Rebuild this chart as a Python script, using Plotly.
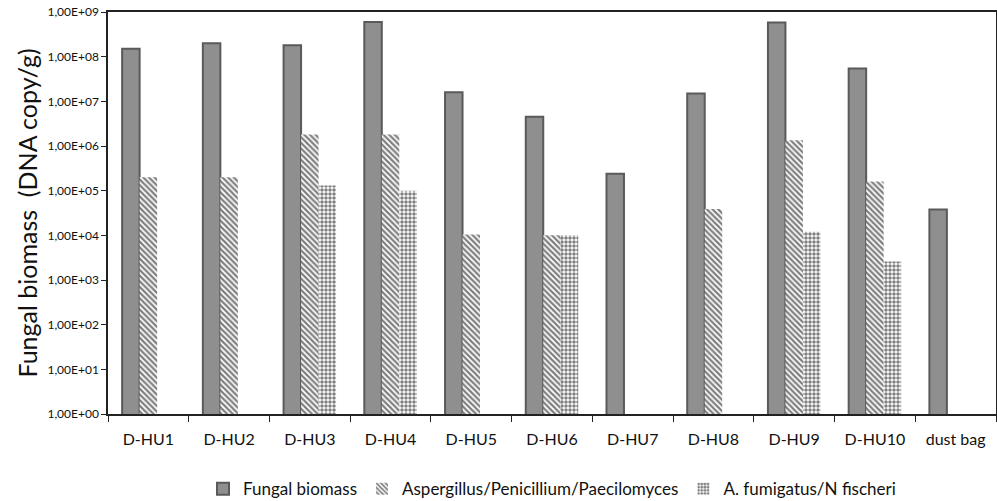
import plotly.graph_objects as go

categories = ["D-HU1", "D-HU2", "D-HU3", "D-HU4", "D-HU5", "D-HU6", "D-HU7", "D-HU8", "D-HU9", "D-HU10", "dust bag"]
fungal_biomass = [1.5e8, 2.0e8, 1.8e8, 6.0e8, 1.6e7, 4.5e6, 2.4e5, 1.5e7, 5.8e8, 5.4e7, 3.8e4]
asp_pen_pae = [2.0e5, 2.0e5, 1.8e6, 1.8e6, 1.05e4, 1.0e4, None, 3.9e4, 1.35e6, 1.6e5, None]
fumigatus = [None, None, 1.3e5, 1.0e5, None, 1.0e4, None, None, 1.2e4, 2.6e3, None]

tick_vals = [10 ** i for i in range(0, 10)]
tick_text = ["1,00E+%02d" % i for i in range(0, 10)]

font_family = "Lato, 'Open Sans', sans-serif"

fig = go.Figure()
fig.add_trace(go.Bar(
    name="Fungal biomass", x=categories, y=fungal_biomass,
    marker=dict(color="#8f8f8f", line=dict(color="#5a5a5a", width=2)),
))
fig.add_trace(go.Bar(
    name="Aspergillus/Penicillium/Paecilomyces", x=categories, y=asp_pen_pae,
    marker=dict(color="white", line=dict(width=0),
                pattern=dict(shape="\\", fgcolor="#000000", bgcolor="white", size=4, solidity=0.55)),
))
fig.add_trace(go.Bar(
    name="A. fumigatus/N fischeri", x=categories, y=fumigatus,
    marker=dict(color="white", line=dict(width=0),
                pattern=dict(shape=".", fgcolor="#000000", bgcolor="white", size=4, solidity=0.6)),
))

fig.update_layout(
    width=997, height=501,
    barmode="group", bargap=0.35, bargroupgap=0,
    plot_bgcolor="white", paper_bgcolor="white",
    margin=dict(l=108, r=1, t=12, b=87, autoexpand=False),
    font=dict(family=font_family, color="#111111"),
    legend=dict(orientation="h", x=0.5, xanchor="center", y=-0.187, yanchor="middle",
                font=dict(size=17, family=font_family), itemwidth=30, traceorder="normal"),
    showlegend=True,
)
fig.update_xaxes(
    showline=True, linecolor="#222222", linewidth=1.5, mirror=True,
    ticks="outside", tickson="boundaries", ticklen=6, tickcolor="#222222",
    tickfont=dict(size=16, family=font_family), showgrid=False,
    ticklabelstandoff=10, automargin=False,
)
fig.update_yaxes(
    type="log", range=[0, 9], tickvals=tick_vals, ticktext=tick_text,
    showline=True, linecolor="#222222", linewidth=1.5, mirror=True,
    ticks="outside", ticklen=5, tickcolor="#222222",
    tickfont=dict(size=12, family=font_family), showgrid=False, automargin=False,
    title=dict(text="Fungal biomass  (DNA copy/g)", font=dict(size=25, family=font_family), standoff=3),
)

fig.write_html("out.html", config={"displayModeBar": False},
               post_script="document.body.style.margin='0px';document.body.style.overflow='hidden';")
